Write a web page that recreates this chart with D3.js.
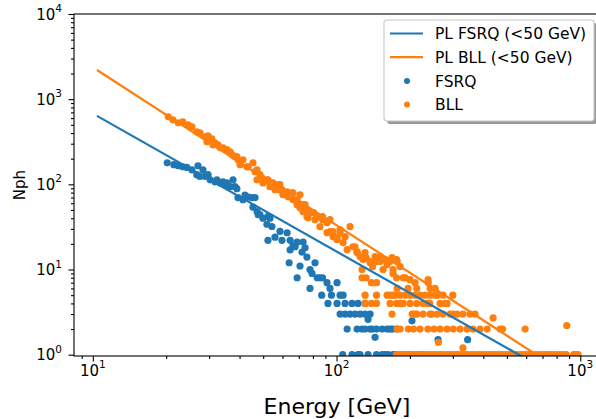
<!DOCTYPE html>
<html>
<head>
<meta charset="utf-8">
<script src="https://cdn.jsdelivr.net/npm/d3@7"></script>
<style>
  body { margin: 0; background: #fff; }
  text { font-family: "DejaVu Sans", sans-serif; fill: #000; }
</style>
</head>
<body>
<div id="chart"></div>
<script>
// energy [GeV], Nph
var fsrqPoints = [
  [20.2,179],[21.5,170],[22.4,165],[23.4,161],[24.3,158],[25.5,148],[26.7,130],[27.0,165],[27.5,124],
  [28.3,148],[28.9,124],[29.7,130],[30.3,113],[31.7,107],[32.3,113],[33.3,104],[34.2,107],[34.9,99],
  [35.5,104],[36.6,94],[37.6,113],[38.3,94],[39.0,89],[39.4,70],[41.3,66],[42.1,75],[43.4,71],[44.9,70],
  [45.4,54],[46.3,70],[47.2,48],[47.7,44],[48.5,44],[49.9,40],[51.8,34],[52.3,42],[52.3,22],[53.3,40],
  [54.3,32],[55.9,24],[58.6,28],[59.7,22],[62.7,27],[63.9,12],[64.5,22],[64.5,17],[66.3,19],[67.6,18.5],
  [68.9,21],[68.9,8],[70.8,11],[72.2,16],[72.9,21],[74.3,18],[75.6,14],[77.8,10],[77.8,6],[79.3,9],
  [81.6,12],[83.3,8],[85.5,8],[86.9,5],[87.6,8],[91.4,7],[92.2,4],[94.0,6],[95.3,5],[100.5,7],[100.5,4],
  [103.4,5],[103.4,3],[106.4,5],[106,1],[108.4,4],[108.4,3],[110.5,2],[113.6,3],[115.7,4],[115.7,1],
  [119.1,3],[121.4,2],[122.5,4],[122.5,1],[124.9,3],[124.9,1],[127.2,2],[130.9,4],[130.9,3],[130.9,2],
  [134.7,2.6],[134.7,1],[137.3,3],[137.3,2],[140.6,2],[143.9,1.6],[145.9,2],[145.9,1],[153.8,2],[153.8,1],
  [158.2,1],[161.2,2],[162.7,1],[165.8,2],[169.6,2],[170.5,1],[173.8,1],[176.4,2],[176.4,1],[200.3,1],
  [204,2.5],[224.4,1],[261,1.5],[345,1.5]
];

var bllPoints = [
  [20.4,620],[21.3,572],[22.4,527],[23.4,541],[24.6,500],[25.5,473],[26.7,414],[27.5,403],[28.9,361],
  [29.4,316],[29.7,372],[30.8,342],[31.1,291],[31.7,307],[32.6,291],[33.3,269],[34.2,269],[35.5,255],
  [36.6,241],[37.3,222],[38.3,211],[39.0,211],[39.4,194],[40.2,170],[41.3,194],[42.9,161],[43.4,161],
  [45.4,179],[46.3,141],[47.2,148],[47.2,113],[48.5,130],[49.4,119],[49.9,104],[51.8,113],[52.3,113],
  [53.3,104],[53.3,94],[54.8,104],[55.9,94],[55.9,86.5],[57.0,91],[57.6,99],[58.6,86.5],[58.6,99],
  [59.7,86.5],[60.3,79.7],[60.3,75.5],[62.7,81.9],[63.3,71.6],[64.5,71.6],[65.7,75.5],[65.7,79.7],
  [66.3,65.9],[66.3,79.7],[68.9,65.9],[68.9,57.7],[68.9,61],[70.8,53.2],[70.8,75.5],[72.2,57.7],
  [72.9,47.8],[72.9,50.4],[72.9,54.6],[74.3,57.7],[75.6,50.4],[75.6,41.7],[76.4,40.6],[77.8,46.5],
  [79.3,46.5],[80.5,46.5],[81.6,38.5],[83.3,41.7],[85.5,31.8],[87.6,41.7],[87.6,38.5],[91.4,35.5],
  [91.4,27.1],[94.0,27.8],[94.0,38.5],[96.7,24.3],[96.7,27.8],[100.5,22.4],[100.5,23.7],[103.4,27.1],
  [103.4,29.4],[106.4,20.7],[108.4,24.3],[110.5,17.1],[113.6,31.8],[116.8,18.5],[119.1,18.5],[121.4,15.8],
  [121.4,16.2],[124.9,14.2],[127.2,10],[127.2,8],[128.5,13.1],[130.9,15.8],[130.9,5],[130.9,4],[132.2,13.8],
  [132.2,8],[137.3,12.1],[137.3,12.4],[139.0,7],[139.0,4],[140.6,10.8],[143.9,14.2],[145.9,12.4],[145.9,7],
  [145.9,5],[145.9,4],[150.9,14.2],[150.9,12.4],[155.2,13.1],[155.2,10],[158.2,13.1],[161.2,11.4],[161.2,5],
  [165.8,12.4],[165.8,4],[165.8,5],[168.9,13.8],[168.9,3],[170.5,10],[170.5,9],[170.5,5],[173.8,5],
  [176.4,8],[176.4,13.1],[176.4,4],[177.3,12.4],[177.3,6],[177.3,2],[182.3,10.8],[182.3,4],[182.3,5],
  [182.3,2],[187.6,8],[187.6,4],[191.1,8],[191.1,5],[196.6,6],[197,2],[200.3,7.6],[200.3,4],[200.3,5],
  [204.3,3],[207,2],[208.3,3],[210.0,7],[210,5],[213.3,6],[213.3,4],[213.3,3],[220,2],[220.2,5],[226.5,4],
  [226.5,3],[230.8,5],[237.4,7.6],[237.9,7],[237.4,4],[237,2],[241.2,4],[242.0,6],[242,5],[242,3],[245.8,3],
  [251,2],[253.7,6],[253.7,5],[259.1,5],[259.1,3],[261.7,1.4],[266,4],[266,2],[273.4,5],[273.4,3],
  [278.8,4],[284,2],[284.2,4],[292.3,3],[300,5],[300,3],[301,2],[312,3],[321,2],[330,3],[343,2],[353,3],
  [363,2],[370,3],[388,2],[415,2],[439,2.7],[469,2],[480,2],[594,2],[880,2.2],[330,1.2],
  [176,1],[181,1],[186,1],[190,1],[195,1],[199,1],[205,1],[211,1],[216,1],[222,1],[228,1],[235,1],
  [241,1],[247,1],[254,1],[262,1],[268,1],[277,1],[284,1],[292,1],[300,1],[309,1],[318,1],[326,1],
  [336,1],[345,1],[356,1],[366,1],[376,1],[388,1],[398,1],[410,1],[423,1],[435,1],[447,1],[461,1],
  [474,1],[488,1],[502,1],[517,1],[532,1],[548,1],[566,1],[583,1],[600,1],[618,1],[636,1],[655,1],
  [674,1],[694,1],[715,1],[736,1],[757,1],[780,1],[803,1],[826,1],[851,1],[876,1],[940,1],[960,1],[980,1]
];

// power-law fit lines (<50 GeV), two end points each
var plEnergy = [10.4, 1200];
var fsrqPL = [637, 0.29];
var bllPL = [2200, 0.33];

var xTicks = [10, 100, 1000];
var yTicks = [1, 10, 100, 1000, 10000];

var width = 596, height = 419;
var margin = { left: 74, right: 600, top: 14, bottom: 356 };

var svg = d3.select("#chart")
    .append("svg")
    .attr("width", width)
    .attr("height", height);

var x = d3.scaleLog().domain([8.37, 1205]).range([margin.left, margin.right]);
var y = d3.scaleLog().domain([0.965, 10000]).range([margin.bottom, margin.top]);

svg.append("clipPath").attr("id", "plotclip")
    .append("rect")
    .attr("x", margin.left).attr("y", margin.top)
    .attr("width", margin.right - margin.left).attr("height", margin.bottom - margin.top);

var plot = svg.append("g").attr("clip-path", "url(#plotclip)");

// scatter points
plot.append("g").selectAll("circle")
    .data(fsrqPoints)
    .enter().append("circle")
    .attr("cx", function (d) { return x(d[0]); })
    .attr("cy", function (d) { return y(d[1]); })
    .attr("r", 3.6)
    .attr("fill", "#1f77b4");

plot.append("g").selectAll("circle")
    .data(bllPoints)
    .enter().append("circle")
    .attr("cx", function (d) { return x(d[0]); })
    .attr("cy", function (d) { return y(d[1]); })
    .attr("r", 3.6)
    .attr("fill", "#ff7f0e");

// fit lines
var line = d3.line()
    .x(function (d) { return x(d[0]); })
    .y(function (d) { return y(d[1]); });

plot.append("path")
    .datum(d3.zip(plEnergy, fsrqPL))
    .attr("d", line)
    .attr("fill", "none")
    .attr("stroke", "#1f77b4")
    .attr("stroke-width", 2.2);

plot.append("path")
    .datum(d3.zip(plEnergy, bllPL))
    .attr("d", line)
    .attr("fill", "none")
    .attr("stroke", "#ff7f0e")
    .attr("stroke-width", 2.2);

// minor ticks
var xMinor = [9, 20, 30, 40, 50, 60, 70, 80, 90, 200, 300, 400, 500, 600, 700, 800, 900];
var yMinor = [];
[1, 10, 100, 1000].forEach(function (b) {
    for (var k = 2; k <= 9; k++) yMinor.push(b * k);
});

svg.append("g")
    .attr("transform", "translate(0," + margin.bottom + ")")
    .call(d3.axisBottom(x).tickValues(xMinor).tickSize(3).tickFormat(""))
    .call(function (g) { g.select(".domain").remove(); });

svg.append("g")
    .attr("transform", "translate(" + margin.left + ",0)")
    .call(d3.axisLeft(y).tickValues(yMinor).tickSize(3).tickFormat(""))
    .call(function (g) { g.select(".domain").remove(); });

// major ticks
svg.append("g")
    .attr("transform", "translate(0," + margin.bottom + ")")
    .call(d3.axisBottom(x).tickValues(xTicks).tickSize(5.5).tickFormat(""))
    .call(function (g) { g.select(".domain").remove(); });

svg.append("g")
    .attr("transform", "translate(" + margin.left + ",0)")
    .call(d3.axisLeft(y).tickValues(yTicks).tickSize(5.5).tickFormat(""))
    .call(function (g) { g.select(".domain").remove(); });

svg.selectAll(".tick line").attr("stroke", "#000").attr("stroke-width", 1.1);

// tick labels as 10^n
function powLabel(sel, exp) {
    sel.append("tspan").text("10");
    sel.append("tspan")
        .attr("dy", -7.5)
        .style("font-size", "10.5px")
        .text(exp);
}

svg.append("g").selectAll("text")
    .data(xTicks)
    .enter().append("text")
    .attr("x", function (d) { return x(d); })
    .attr("y", 375.5)
    .attr("text-anchor", "middle")
    .style("font-size", "15px")
    .each(function (d) { powLabel(d3.select(this), Math.round(Math.log10(d))); });

svg.append("g").selectAll("text")
    .data(yTicks)
    .enter().append("text")
    .attr("x", 62)
    .attr("y", function (d) { return y(d) + 5.5; })
    .attr("text-anchor", "end")
    .style("font-size", "15px")
    .each(function (d) { powLabel(d3.select(this), Math.round(Math.log10(d))); });

// frame
svg.append("rect")
    .attr("x", margin.left).attr("y", margin.top)
    .attr("width", margin.right - margin.left).attr("height", margin.bottom - margin.top)
    .attr("fill", "none")
    .attr("stroke", "#000")
    .attr("stroke-width", 1.1);

// axis labels
svg.append("text")
    .attr("x", (margin.left + margin.right) / 2)
    .attr("y", 414)
    .attr("text-anchor", "middle")
    .style("font-size", "22px")
    .text("Energy [GeV]");

svg.append("text")
    .attr("transform", "translate(25," + ((margin.top + margin.bottom) / 2) + ") rotate(-90)")
    .attr("text-anchor", "middle")
    .style("font-size", "15px")
    .text("Nph");

// legend
var legendNames = ["PL FSRQ (<50 GeV)", "PL BLL (<50 GeV)", "FSRQ", "BLL"];
var legendColors = ["#1f77b4", "#ff7f0e", "#1f77b4", "#ff7f0e"];
var legend = svg.append("g");

legend.append("rect")
    .attr("x", 387).attr("y", 23)
    .attr("width", 210).attr("height", 101)
    .attr("rx", 3)
    .attr("fill", "#999");

legend.append("rect")
    .attr("x", 384).attr("y", 20)
    .attr("width", 210).attr("height", 101)
    .attr("rx", 3)
    .attr("fill", "#fff")
    .attr("stroke", "#c8c8c8")
    .attr("stroke-width", 1.1);

legendNames.forEach(function (name, i) {
    var cy = 33.5 + i * 23.7;
    if (i < 2) {
        legend.append("line")
            .attr("x1", 390).attr("x2", 423)
            .attr("y1", cy).attr("y2", cy)
            .attr("stroke", legendColors[i])
            .attr("stroke-width", 2.2);
    } else {
        legend.append("circle")
            .attr("cx", 407).attr("cy", cy)
            .attr("r", 3)
            .attr("fill", legendColors[i]);
    }
    legend.append("text")
        .attr("x", 435)
        .attr("y", cy + 5.6)
        .style("font-size", "15.5px")
        .text(name);
});
</script>
</body>
</html>
